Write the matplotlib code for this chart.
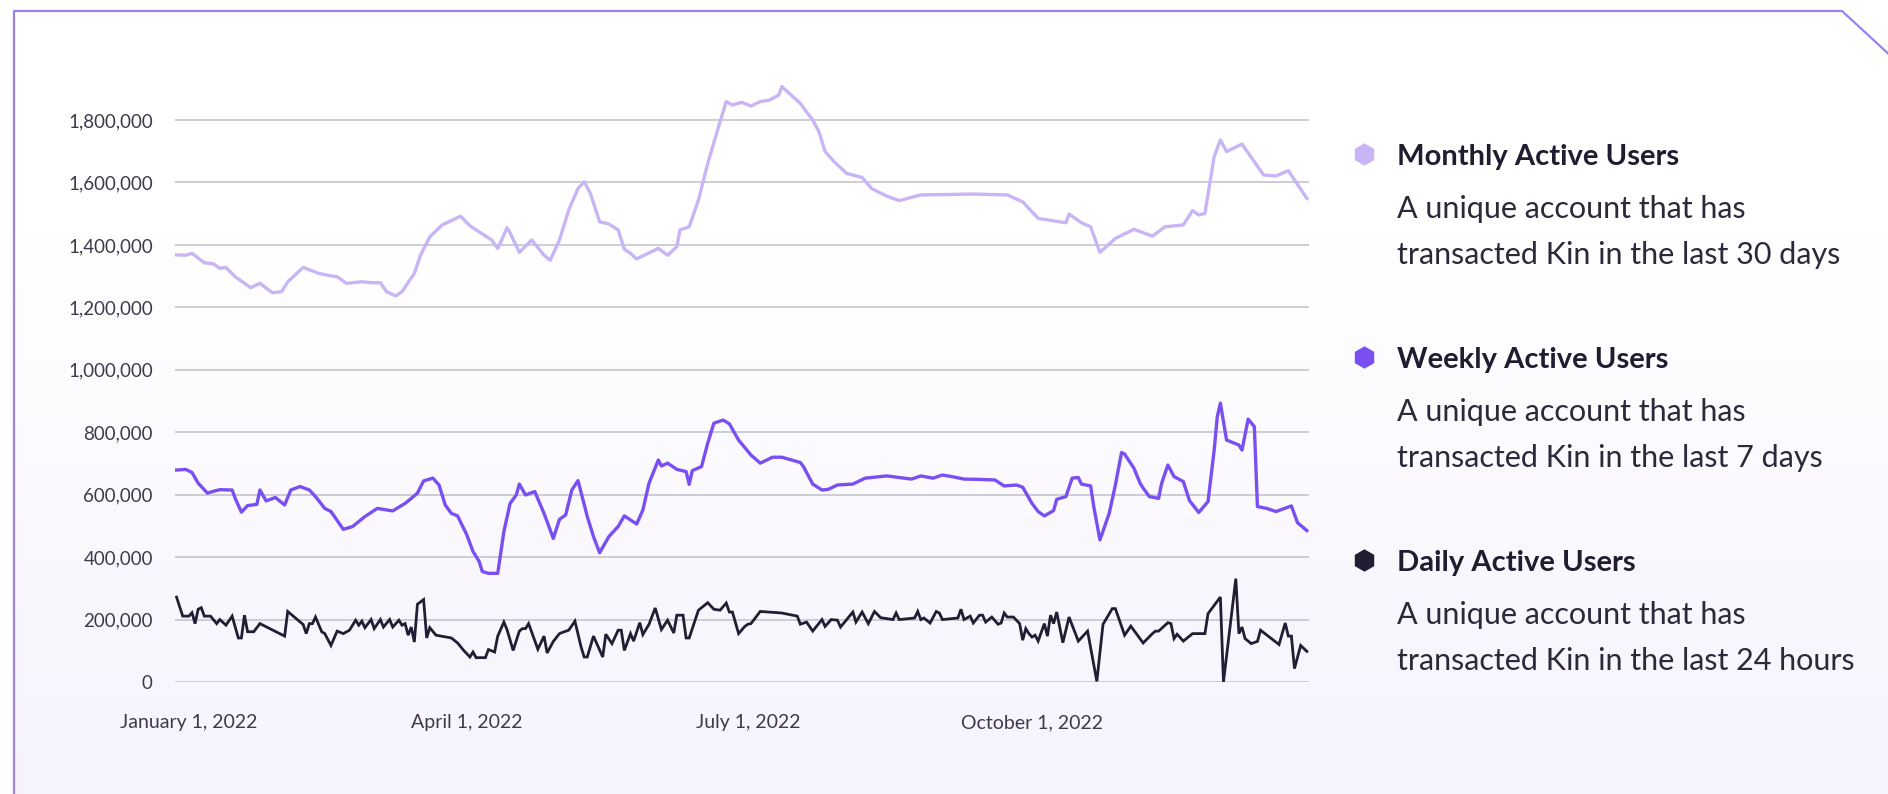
import matplotlib
matplotlib.use("Agg")
import matplotlib.pyplot as plt
from matplotlib.patches import Polygon
from matplotlib.ticker import FuncFormatter
import numpy as np
import pandas as pd

plt.rcParams['font.family'] = ['Lato', 'DejaVu Sans']

# day offsets from 2022-01-01, values in thousands of accounts
mau_days = [-4, -1, 1, 5, 8, 10, 12, 15, 20, 23,
            27, 30, 32, 34, 37, 42, 46, 48, 51, 56,
            59, 62, 64, 67, 69, 73, 75, 78, 82, 88,
            91, 98, 100, 101, 103, 104, 107, 111, 115, 117,
            120, 123, 126, 128, 130, 133, 136, 139, 141, 143,
            145, 152, 155, 158, 159, 162, 165, 168, 172, 174,
            176, 179, 182, 185, 188, 191, 192, 198, 202, 204,
            206, 209, 213, 218, 221, 226, 230, 237, 254, 265,
            270, 275, 284, 285, 289, 292, 295, 300, 306, 309,
            312, 316, 322, 325, 327, 329, 332, 334, 336, 341,
            348, 352, 356, 362]
mau_k = [1368, 1367, 1373, 1343, 1339, 1325, 1328, 1298, 1263, 1277,
         1247, 1250, 1282, 1300, 1328, 1309, 1301, 1298, 1277, 1282,
         1279, 1279, 1250, 1237, 1250, 1309, 1367, 1426, 1464, 1492,
         1461, 1416, 1389, 1410, 1455, 1439, 1376, 1416, 1367, 1351,
         1416, 1512, 1581, 1602, 1565, 1474, 1467, 1448, 1386, 1373,
         1355, 1389, 1367, 1394, 1448, 1458, 1544, 1661, 1795, 1859,
         1848, 1857, 1845, 1859, 1864, 1880, 1907, 1853, 1800, 1763,
         1699, 1666, 1629, 1616, 1581, 1556, 1542, 1560, 1563, 1560,
         1538, 1485, 1471, 1499, 1471, 1458, 1376, 1421, 1450, 1439,
         1428, 1458, 1464, 1510, 1496, 1501, 1683, 1736, 1699, 1723,
         1624, 1621, 1638, 1549]

wau_days = [-4, -1, 1, 3, 6, 8, 10, 14, 15, 17,
            19, 22, 23, 25, 28, 31, 33, 36, 39, 41,
            44, 46, 50, 53, 57, 61, 66, 70, 72, 74,
            76, 79, 81, 83, 85, 87, 90, 92, 94, 95,
            97, 100, 102, 104, 106, 107, 109, 112, 115, 118,
            120, 122, 124, 126, 129, 131, 133, 136, 139, 141,
            145, 147, 149, 152, 153, 155, 158, 161, 162, 163,
            166, 168, 170, 173, 175, 178, 182, 185, 189, 192,
            198, 199, 201, 202, 205, 207, 210, 215, 219, 226,
            234, 237, 241, 244, 247, 251, 256, 261, 264, 268,
            270, 273, 275, 277, 280, 281, 284, 286, 288, 289,
            292, 293, 295, 298, 300, 302, 303, 306, 308, 309,
            311, 314, 315, 317, 319, 322, 324, 327, 330, 332,
            333, 334, 336, 340, 341, 343, 345, 346, 349, 352,
            357, 359, 362]
wau_k = [679, 681, 671, 637, 605, 611, 616, 615, 588, 544,
         565, 569, 615, 580, 591, 567, 615, 626, 615, 594,
         556, 546, 489, 498, 530, 556, 548, 572, 588, 605,
         644, 653, 631, 567, 540, 532, 471, 418, 386, 354,
         348, 348, 482, 572, 599, 634, 599, 610, 540, 460,
         521, 535, 615, 645, 530, 466, 414, 466, 498, 532,
         506, 551, 637, 711, 692, 701, 681, 674, 633, 677,
         690, 765, 829, 839, 827, 775, 727, 701, 720, 720,
         703, 690, 653, 634, 615, 617, 631, 634, 653, 660,
         650, 660, 653, 663, 658, 650, 649, 647, 628, 631,
         624, 572, 546, 532, 549, 585, 594, 653, 655, 634,
         628, 562, 455, 540, 631, 735, 730, 685, 637, 621,
         594, 588, 637, 695, 658, 642, 581, 543, 578, 743,
         850, 893, 775, 759, 743, 842, 818, 562, 556, 546,
         564, 510, 485]

dau_days = [-4, -2, 0, 1, 2, 3, 4, 5, 7, 9,
            10, 12, 14, 16, 17, 18, 19, 21, 23, 31,
            32, 37, 38, 39, 40, 41, 43, 44, 46, 48,
            50, 52, 54, 55, 56, 57, 59, 60, 62, 63,
            65, 66, 68, 69, 70, 71, 72, 73, 74, 76,
            77, 78, 80, 85, 87, 89, 91, 92, 93, 96,
            97, 99, 100, 102, 103, 105, 107, 108, 109, 110,
            113, 115, 116, 118, 120, 121, 123, 125, 127, 128,
            129, 131, 134, 135, 137, 139, 140, 141, 143, 144,
            146, 147, 149, 151, 153, 155, 157, 158, 160, 161,
            162, 165, 168, 170, 172, 174, 175, 176, 178, 180,
            181, 182, 185, 192, 197, 198, 200, 202, 205, 206,
            208, 210, 211, 215, 216, 218, 220, 222, 224, 228,
            229, 230, 235, 236, 237, 238, 240, 242, 243, 244,
            249, 250, 251, 253, 254, 256, 257, 258, 260, 262,
            263, 264, 265, 267, 269, 270, 271, 272, 273, 274,
            275, 277, 278, 279, 280, 281, 283, 285, 288, 291,
            294, 296, 299, 300, 303, 305, 309, 312, 313, 314,
            317, 318, 319, 320, 322, 325, 329, 330, 334, 335,
            339, 340, 341, 342, 344, 346, 347, 353, 355, 356,
            357, 358, 360, 362]
dau_k = [272, 211, 211, 222, 187, 233, 238, 211, 211, 187,
         200, 182, 211, 141, 141, 214, 161, 161, 187, 147,
         226, 184, 155, 187, 187, 208, 161, 155, 117, 163,
         155, 166, 198, 182, 195, 174, 200, 171, 200, 176,
         200, 176, 198, 182, 187, 150, 176, 128, 249, 264,
         141, 174, 150, 141, 125, 101, 80, 96, 78, 78,
         104, 96, 147, 192, 168, 101, 163, 171, 171, 187,
         105, 147, 93, 130, 155, 159, 166, 195, 112, 80,
         80, 147, 80, 153, 123, 166, 166, 101, 155, 131,
         190, 152, 185, 237, 168, 198, 157, 214, 214, 141,
         141, 230, 254, 233, 230, 253, 224, 224, 155, 178,
         185, 187, 226, 221, 211, 185, 192, 163, 200, 178,
         200, 198, 176, 224, 192, 224, 187, 226, 206, 200,
         221, 200, 205, 226, 200, 205, 189, 226, 221, 200,
         205, 233, 200, 211, 189, 214, 214, 192, 208, 185,
         189, 221, 208, 208, 187, 134, 171, 155, 144, 150,
         131, 187, 147, 214, 187, 224, 126, 208, 131, 163,
         2, 185, 235, 235, 150, 179, 125, 155, 163, 163,
         190, 187, 139, 153, 131, 155, 155, 219, 272, 0,
         331, 155, 176, 139, 123, 130, 166, 120, 189, 147,
         147, 43, 117, 98]

y_ticks = [0, 200000, 400000, 600000, 800000, 1000000, 1200000, 1400000, 1600000, 1800000]
tick_dates = ["2022-01-01", "2022-04-01", "2022-07-01", "2022-10-01"]
tick_labels = ["January 1, 2022", "April 1, 2022", "July 1, 2022", "October 1, 2022"]

series_names = ["Monthly Active Users", "Weekly Active Users", "Daily Active Users"]
series_desc = [["A unique account that has", "transacted Kin in the last 30 days"],
               ["A unique account that has", "transacted Kin in the last 7 days"],
               ["A unique account that has", "transacted Kin in the last 24 hours"]]
colors = ["#c8b5f6", "#7a4ff2", "#211e33"]

start = pd.Timestamp("2022-01-01")


def to_dates(days):
    return start + pd.to_timedelta(days, unit="D")


W, H = 1888, 794
fig = plt.figure(figsize=(W / 100, H / 100), dpi=100, facecolor="white")

# background panel with a soft lavender fade and the cut corner frame
bg = fig.add_axes([0, 0, 1, 1], zorder=-5)
bg.set_xlim(0, W)
bg.set_ylim(H, 0)
bg.axis("off")
frame = [(14, H + 5), (14, 11), (1842, 11), (W + 5, 58), (W + 5, H + 5)]
grad = np.linspace(0, 1, 200)
grad = np.clip((grad - 0.3) / 0.7, 0, 1)[:, None]
top = np.array([1.0, 1.0, 1.0])
bot = np.array([0.965, 0.953, 0.992])
img = top[None, None, :] * (1 - grad[..., None]) + bot[None, None, :] * grad[..., None]
im = bg.imshow(img, extent=[0, W, H, 0], aspect="auto", interpolation="bilinear")
clip = Polygon(frame, closed=True, transform=bg.transData, facecolor="none")
im.set_clip_path(clip)
xs, ys = zip(*frame[:4])
bg.plot(xs, ys, color="#9b80f5", lw=1.6, solid_capstyle="butt")

# main chart
ax = fig.add_axes([175 / W, 1 - 682 / H, (1309 - 175) / W, 624.4 / H])
ax.set_facecolor("none")
for s in ax.spines.values():
    s.set_visible(False)

ax.plot(to_dates(dau_days), np.array(dau_k) * 1000, color=colors[2], lw=2.0, zorder=3,
        solid_joinstyle="miter")
ax.plot(to_dates(wau_days), np.array(wau_k) * 1000, color=colors[1], lw=2.4, zorder=3,
        solid_joinstyle="round")
ax.plot(to_dates(mau_days), np.array(mau_k) * 1000, color=colors[0], lw=2.4, zorder=3,
        solid_joinstyle="round")

ax.set_xlim(start - pd.Timedelta(days=4.5), start + pd.Timedelta(days=362.7))
ax.set_ylim(0, 2000000)
ax.set_yticks(y_ticks)
ax.yaxis.set_major_formatter(FuncFormatter(lambda v, p: f"{int(v):,}"))
ax.set_xticks(pd.to_datetime(tick_dates))
ax.set_xticklabels(tick_labels)
ax.yaxis.grid(True, color="#c6c5cd", lw=1.2)
ax.set_axisbelow(True)
ax.tick_params(axis="y", length=0, pad=16, labelsize=13.5, labelcolor="#3c3b4c")
ax.tick_params(axis="x", length=0, pad=23, labelsize=14, labelcolor="#3c3b4c")

# legend on the right
for i, (name, desc) in enumerate(zip(series_names, series_desc)):
    base = 165 + 203 * i
    fig.add_artist(plt.Line2D([1364 / W], [1 - (base - 11) / H], marker="h", ms=15,
                              color=colors[i], mec=colors[i], transform=fig.transFigure))
    fig.text(1397 / W, 1 - base / H, name, fontsize=21, fontweight="bold",
             color="#1f1d2f", va="baseline", ha="left")
    fig.text(1397 / W, 1 - (base + 53) / H, desc[0], fontsize=22,
             color="#2b2a3b", va="baseline", ha="left")
    fig.text(1397 / W, 1 - (base + 99) / H, desc[1], fontsize=22,
             color="#2b2a3b", va="baseline", ha="left")

fig.savefig("out.png", dpi=100, facecolor="white")
